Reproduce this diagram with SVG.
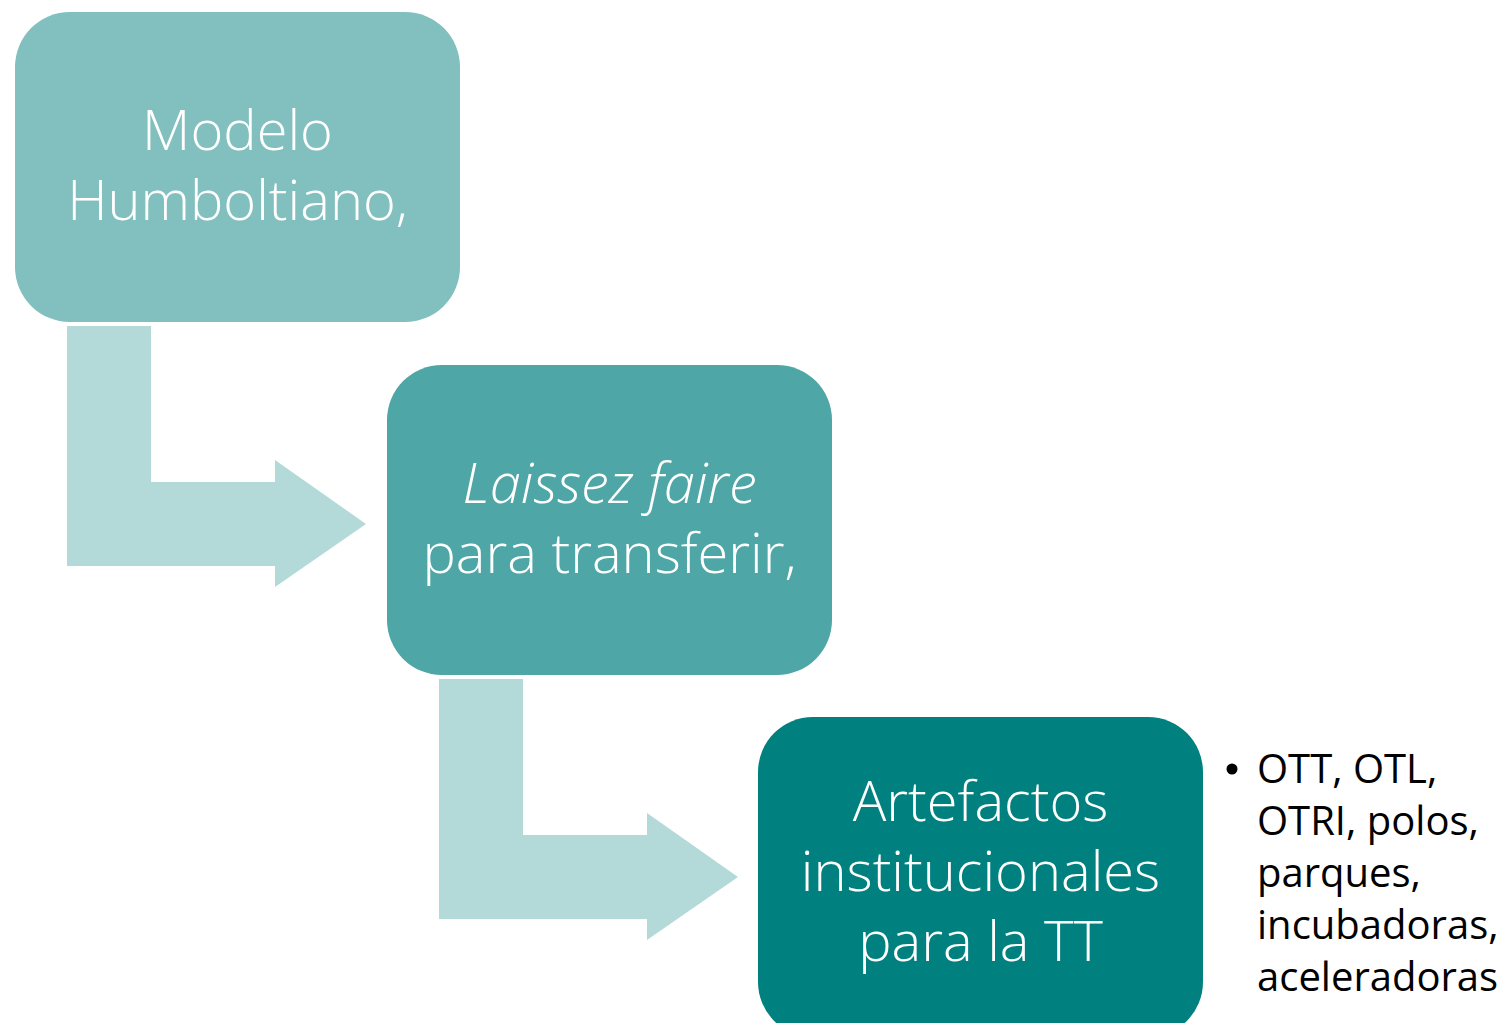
<svg xmlns="http://www.w3.org/2000/svg" width="1506" height="1023" viewBox="0 0 1506 1023">
<style>
.box{stroke:none}
.t{font-family:"Open Sans","Noto Sans",sans-serif;font-weight:300;font-size:56px;fill:#ffffff;text-anchor:middle}
.arrow{fill:#B3DAD9}
.b{font-family:"Open Sans","Noto Sans",sans-serif;font-size:40px;fill:#000000}
</style>
<rect width="1506" height="1023" fill="#ffffff"/>
<g id="connectors">
<path class="arrow" d="M67,326 H151 V482 H275 V460 L366,524 L275,587 V566 H67 Z"/>
<path class="arrow" d="M439,679 H523 V835 H647 V813 L738,877 L647,940 V919 H439 Z"/>
</g>
<g id="node1">
<rect class="box" x="15" y="12" width="445" height="310" rx="55" fill="#82BFBF"/>
<text class="t" x="237.5" y="150">Modelo</text>
<text class="t" x="237.5" y="220">Humboltiano,</text>
</g>
<g id="node2">
<rect class="box" x="387" y="365" width="445" height="310" rx="55" fill="#4EA6A6"/>
<text class="t" x="609.5" y="503" font-style="italic">Laissez faire</text>
<text class="t" x="609.5" y="573">para transferir,</text>
</g>
<g id="node3">
<rect class="box" x="758" y="717" width="445" height="320" rx="55" fill="#00807F"/>
<text class="t" x="980.5" y="821">Artefactos</text>
<text class="t" x="980.5" y="891">institucionales</text>
<text class="t" x="980.5" y="961">para la TT</text>
</g>
<g id="bullets">
<circle cx="1232" cy="769" r="5.5" fill="#000000"/>
<text class="b" x="1257" y="783">OTT, OTL,</text>
<text class="b" x="1257" y="835">OTRI, polos,</text>
<text class="b" x="1257" y="887">parques,</text>
<text class="b" x="1257" y="939">incubadoras,</text>
<text class="b" x="1257" y="991">aceleradoras</text>
</g>
</svg>
